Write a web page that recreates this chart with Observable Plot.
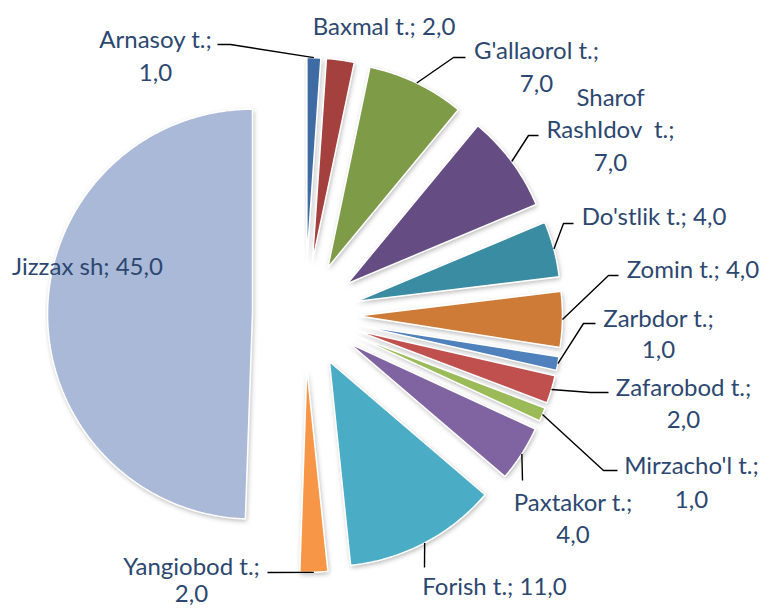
<!DOCTYPE html>
<html><head><meta charset="utf-8">
<script src="https://cdn.jsdelivr.net/npm/d3@7"></script>
<script src="https://cdn.jsdelivr.net/npm/@observablehq/plot@0.6"></script>
<style>body{margin:0;background:#fff} #chart svg{white-space:pre;display:block}</style>
</head><body><div id="chart"></div>
<script>
// ---- data ----
const names = ["Arnasoy t.", "Baxmal t.", "G'allaorol t.", "Sharof RashIdov  t.", "Do'stlik t.", "Zomin t.", "Zarbdor t.", "Zafarobod t.", "Mirzacho'l t.", "Paxtakor t.", "Forish t.", "Yangiobod t.", "Jizzax sh"];
const values = [1, 2, 7, 7, 4, 4, 1, 2, 1, 4, 11, 2, 45];
const colors = ["#3E6BA4", "#A4403D", "#7E9B47", "#654D83", "#3A8CA3", "#CE7B37", "#4F81BD", "#C0504D", "#9BBB59", "#8064A2", "#4BACC6", "#F79646", "#AAB9D7"];

// ---- layout (label placement, leader elbows) ----
const valueOnNewLine = [true, false, true, true, false, false, true, true, true, true, false, true, false];
const labelX = [155, 383.5, 536, 610, 653.5, 692.5, 658, 683, 691, 572.5, 494, 191, 87];
const labelY = [37, 25, 48, 95, 215, 268, 317, 385, 463, 500, 585, 566, 265];
const lineGap = [33, 31, 33, 32.5, 31, 31, 31, 32, 34, 32, 31, 27, 31];
const leaderTail = [[[230,44],[217,44]], null, [[453,57],[465,57]], [[528,135],[538,135]], [[563,223],[573,223]], [[608,275],[618,275]], [[583,323],[595,323]], [[590,392],[608,392]], [[603,470],[617,470]], [[522,480]], [[424,567]], [[267,572]], null];

const W = 776, H = 612;
const cx = 304.5, cy = 314.5, R = 205, explode = 52.5, fontSize = 24;
const fmt = v => d3.format(".1f")(v).replace(".", ",");

const arcs = d3.pie().sort(null).value(d => d)(values);
const slices = arcs.map((a, i) => {
  const mid = (a.startAngle + a.endAngle) / 2;
  const ox = cx + explode * Math.sin(mid), oy = cy - explode * Math.cos(mid);
  const pts = [{x: ox, y: oy}];
  const n = Math.max(4, Math.ceil((a.endAngle - a.startAngle) / 0.01));
  for (let k = 0; k <= n; k++) {
    const t = a.startAngle + (a.endAngle - a.startAngle) * k / n;
    pts.push({x: ox + R * Math.sin(t), y: oy - R * Math.cos(t)});
  }
  pts.push({x: ox, y: oy});
  return {i, pts, color: colors[i], outer: {x: ox + R * Math.sin(mid), y: oy - R * Math.cos(mid)}};
});

const labels = names.map((nm, i) => {
  const name = nm.replace(" RashIdov", "\nRashIdov");
  const text = name + ";" + (valueOnNewLine[i] ? "\n" : " ") + fmt(values[i]);
  const nLines = text.split("\n").length;
  return {x: labelX[i], y: labelY[i] + (nLines - 1) * lineGap[i] / 2, text, lh: lineGap[i] / fontSize};
});

const leaders = [];
slices.forEach((s, i) => {
  if (!leaderTail[i]) return;
  leaders.push({id: i, x: s.outer.x, y: s.outer.y});
  leaderTail[i].forEach(([x, y]) => leaders.push({id: i, x, y}));
});

const marks = [];
slices.forEach(s => marks.push(Plot.line(s.pts, {x: "x", y: "y", fill: "#000", fillOpacity: 0.3, stroke: "none", dx: 1, dy: 2})));
slices.forEach(s => marks.push(Plot.line(s.pts, {x: "x", y: "y", fill: s.color, stroke: "#fff", strokeWidth: 1.6, strokeLinejoin: "miter"})));
marks.push(Plot.line(leaders, {x: "x", y: "y", z: "id", stroke: "#000", strokeWidth: 1.4, strokeLinecap: "butt", strokeLinejoin: "miter"}));
labels.forEach(l => marks.push(Plot.text([l], {x: "x", y: "y", text: "text", fill: "#2C4770", fontSize, fontFamily: "Lato, 'Noto Sans', sans-serif", textAnchor: "middle", lineAnchor: "middle", lineHeight: l.lh})));

const chart = Plot.plot({
  width: W, height: H, margin: 0,
  x: {domain: [0, W], range: [0, W], axis: null},
  y: {domain: [0, H], range: [0, H], axis: null},
  style: {background: "#fff"},
  marks
});

// soft shadow filter on the shadow copies
const ns = "http://www.w3.org/2000/svg";
const defs = document.createElementNS(ns, "defs");
defs.innerHTML = '<filter id="soft" x="-20%" y="-20%" width="140%" height="140%"><feGaussianBlur stdDeviation="2.6"/></filter>';
chart.insertBefore(defs, chart.firstChild);
chart.querySelectorAll('g[fill="#000"]').forEach(g => g.setAttribute("filter", "url(#soft)"));

document.getElementById("chart").appendChild(chart);
</script>
</body></html>
